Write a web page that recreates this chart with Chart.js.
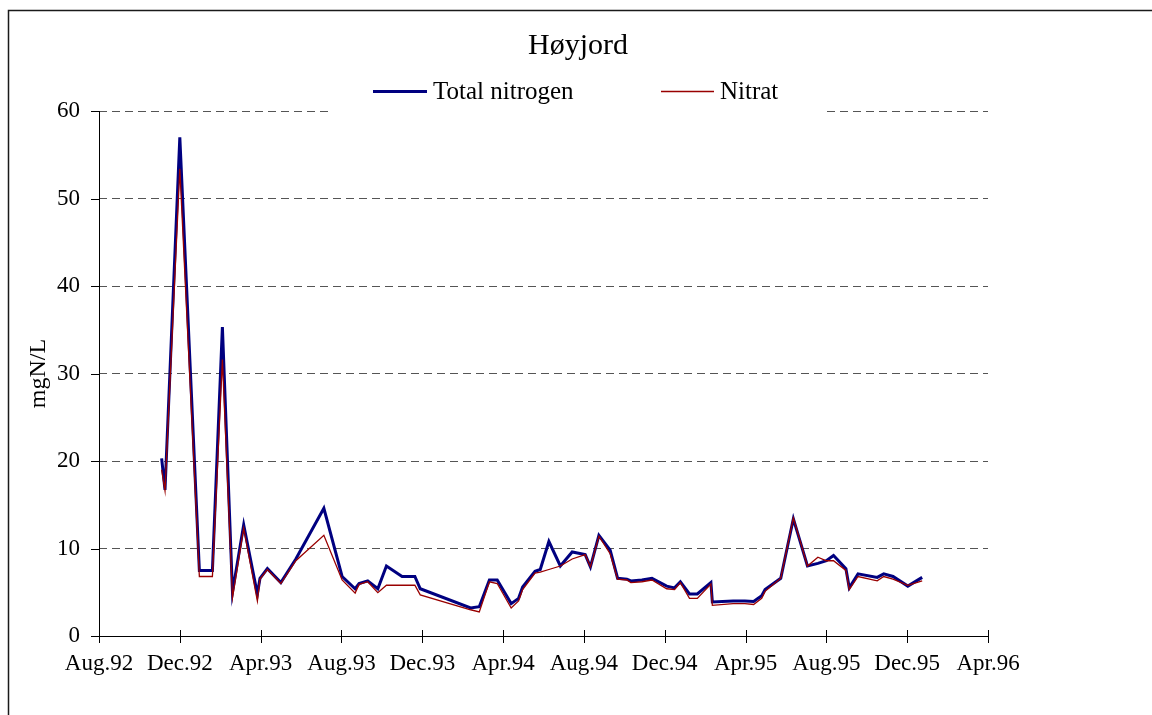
<!DOCTYPE html>
<html>
<head>
<meta charset="utf-8">
<title>Høyjord</title>
<script src="https://cdn.jsdelivr.net/npm/chart.js@4.4.1/dist/chart.umd.min.js"></script>
<style>
  html, body { margin: 0; padding: 0; background: #ffffff; }
  #wrap { width: 1152px; height: 715px; }
</style>
</head>
<body>
<div id="wrap"><canvas id="chart" width="1152" height="715"></canvas></div>
<script>
// Sampling dates (YYYY-MM-DD)
const sampleDates = [
  "1992-11-04", "1992-11-09", "1992-12-01", "1992-12-31", "1993-01-20",
  "1993-02-04", "1993-02-18", "1993-03-06", "1993-03-27", "1993-03-31",
  "1993-04-11", "1993-05-01", "1993-05-24", "1993-07-05", "1993-08-02",
  "1993-08-22", "1993-08-28", "1993-09-10", "1993-09-25", "1993-10-08",
  "1993-11-01", "1993-11-20", "1993-11-28", "1994-02-12", "1994-02-24",
  "1994-03-11", "1994-03-23", "1994-04-13", "1994-04-24", "1994-04-30",
  "1994-05-19", "1994-05-27", "1994-06-09", "1994-06-26", "1994-07-14",
  "1994-08-03", "1994-08-11", "1994-08-24", "1994-09-10", "1994-09-21",
  "1994-10-05", "1994-10-11", "1994-10-28", "1994-11-12", "1994-12-04",
  "1994-12-16", "1994-12-25", "1995-01-08", "1995-01-20", "1995-02-09",
  "1995-02-11", "1995-03-13", "1995-03-31", "1995-04-13", "1995-04-25",
  "1995-04-30", "1995-05-24", "1995-06-12", "1995-07-03", "1995-07-19",
  "1995-08-01", "1995-08-12", "1995-08-31", "1995-09-05", "1995-09-18",
  "1995-10-17", "1995-10-27", "1995-11-10", "1995-12-02", "1995-12-24"
];

// Total nitrogen, mgN/L
const totalNitrogen = [
  20.3, 16.7, 57.0, 7.5, 7.5,
  35.3, 5.0, 12.7, 4.8, 6.6,
  7.7, 6.1, 8.8, 14.6, 6.8,
  5.4, 6.0, 6.3, 5.4, 8.0,
  6.8, 6.8, 5.4, 3.2, 3.35,
  6.4, 6.4, 3.7, 4.3, 5.6,
  7.4, 7.6, 10.8, 8.0, 9.6,
  9.3, 7.9, 11.5, 9.8, 6.6,
  6.5, 6.3, 6.4, 6.6, 5.7,
  5.5, 6.2, 4.8, 4.8, 6.1,
  3.9, 4.0, 4.0, 3.95, 4.6,
  5.3, 6.6, 13.4, 8.0, 8.3,
  8.6, 9.2, 7.7, 5.5, 7.1,
  6.7, 7.1, 6.8, 5.7, 6.7
];

// Nitrat, mgN/L
const nitrat = [
  19.0, 16.6, 53.4, 6.8, 6.8,
  31.6, 4.4, 12.3, 4.0, 6.5,
  7.6, 6.0, 8.6, 11.5, 6.4,
  4.9, 5.9, 6.2, 4.95, 5.8,
  5.8, 5.8, 4.7, 3.0, 2.75,
  6.2, 6.0, 3.2, 4.0, 5.3,
  7.2, 7.3, 7.6, 8.0, 8.8,
  9.3, 7.9, 11.4, 9.4, 6.5,
  6.4, 6.1, 6.2, 6.4, 5.4,
  5.3, 6.1, 4.3, 4.3, 5.95,
  3.5, 3.7, 3.7, 3.6, 4.3,
  5.1, 6.6, 13.5, 8.0, 9.0,
  8.6, 8.6, 7.5, 5.3, 6.8,
  6.3, 6.8, 6.5, 5.8, 6.3
];

// Axis labels, one every four months starting August 1992
const tickLabels = [
  "Aug.92", "Dec.92", "Apr.93", "Aug.93", "Dec.93", "Apr.94",
  "Aug.94", "Dec.94", "Apr.95", "Aug.95", "Dec.95", "Apr.96"
];

const seriesNames = ["Total nitrogen", "Nitrat"];
const chartTitle = "Høyjord";
const yAxisTitle = "mgN/L";

// Months elapsed since 1 August 1992 (fractional)
function monthIndex(dateStr) {
  const [y, m, d] = dateStr.split("-").map(Number);
  const daysInMonth = new Date(y, m, 0).getDate();
  return (y - 1992) * 12 + (m - 8) + (d - 1) / daysInMonth;
}

const toPoints = (values) => sampleDates.map((s, i) => ({ x: monthIndex(s), y: values[i] }));

const SERIF = "'Liberation Serif', 'Times New Roman', serif";
const BLUE = "#000080";
const RED = "#990000";

// Title, legend, outer frame, axis lines and cross tick marks
const decorations = {
  id: "decorations",
  afterDraw(chart) {
    const { ctx, chartArea: a, scales } = chart;
    const xs = scales.x, ys = scales.y;
    ctx.save();

    // outer frame
    ctx.strokeStyle = "#1a1a1a";
    ctx.lineWidth = 1.5;
    ctx.strokeRect(8.5, 10.5, 1300, 900);

    // legend background hides the grid line behind it
    ctx.fillStyle = "#ffffff";
    ctx.fillRect(331, 70, 492, 46);

    // axis lines
    ctx.strokeStyle = "#000000";
    ctx.lineWidth = 1;
    ctx.beginPath();
    ctx.moveTo(Math.round(a.left) + 0.5, a.top);
    ctx.lineTo(Math.round(a.left) + 0.5, Math.round(a.bottom) + 0.5);
    ctx.lineTo(a.right, Math.round(a.bottom) + 0.5);
    ctx.stroke();

    // tick marks crossing the axes
    ctx.beginPath();
    xs.ticks.forEach(t => {
      const px = Math.round(xs.getPixelForValue(t.value)) + 0.5;
      ctx.moveTo(px, a.bottom - 6);
      ctx.lineTo(px, a.bottom + 7);
    });
    ys.ticks.forEach(t => {
      const py = Math.round(ys.getPixelForValue(t.value)) + 0.5;
      ctx.moveTo(a.left - 8, py);
      ctx.lineTo(a.left + 1, py);
    });
    ctx.stroke();

    // title
    ctx.fillStyle = "#000000";
    ctx.textAlign = "center";
    ctx.textBaseline = "middle";
    ctx.font = "30px " + SERIF;
    ctx.fillText(chartTitle, 578, 46);

    // legend
    ctx.font = "25px " + SERIF;
    ctx.textAlign = "left";
    const items = [
      { x0: 373, x1: 427, tx: 433, color: BLUE, w: 3 },
      { x0: 661, x1: 714, tx: 720, color: RED, w: 1.3 }
    ];
    items.forEach((it, i) => {
      ctx.strokeStyle = it.color;
      ctx.lineWidth = it.w;
      ctx.beginPath();
      ctx.moveTo(it.x0, 91.5);
      ctx.lineTo(it.x1, 91.5);
      ctx.stroke();
      ctx.fillStyle = "#000000";
      ctx.fillText(chart.data.datasets[i].label, it.tx, 92);
    });

    ctx.restore();
  }
};

new Chart(document.getElementById("chart"), {
  type: "line",
  data: {
    datasets: [
      {
        label: seriesNames[0],
        data: toPoints(totalNitrogen),
        borderColor: BLUE,
        borderWidth: 3,
        pointRadius: 0,
        tension: 0,
        fill: false,
        order: 1
      },
      {
        label: seriesNames[1],
        data: toPoints(nitrat),
        borderColor: RED,
        borderWidth: 1.3,
        pointRadius: 0,
        tension: 0,
        fill: false,
        order: 0
      }
    ]
  },
  options: {
    responsive: false,
    animation: false,
    devicePixelRatio: 1,
    layout: { padding: { left: 0, top: 111, right: 164, bottom: 0 } },
    plugins: {
      legend: { display: false },
      title: { display: false },
      tooltip: { enabled: false }
    },
    scales: {
      x: {
        type: "linear",
        min: 0,
        max: 44,
        afterFit(scale) { scale.height = 79; },
        grid: { display: false, drawTicks: false },
        border: { display: false },
        ticks: {
          stepSize: 4,
          autoSkip: false,
          maxRotation: 0,
          padding: 14,
          color: "#000000",
          font: { family: SERIF, size: 23 },
          callback: (v) => tickLabels[Math.round(v / 4)]
        }
      },
      y: {
        min: 0,
        max: 60,
        afterFit(scale) { scale.width = 99; },
        grid: { color: "#555555", lineWidth: 1, drawTicks: false },
        border: { display: false, dash: [8, 5] },
        ticks: {
          stepSize: 10,
          padding: 19,
          color: "#000000",
          font: { family: SERIF, size: 23 }
        },
        title: {
          display: true,
          text: yAxisTitle,
          color: "#000000",
          font: { family: SERIF, size: 24 },
          padding: { top: 24, bottom: 0 }
        }
      }
    }
  },
  plugins: [decorations]
});
</script>
</body>
</html>
